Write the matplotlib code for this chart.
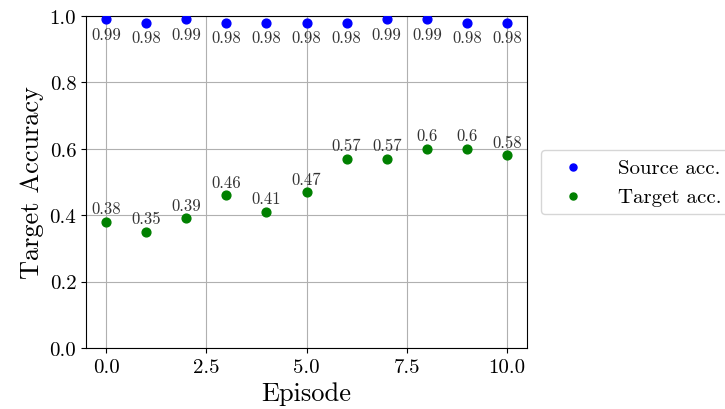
import matplotlib
matplotlib.use('Agg')
import matplotlib.pyplot as plt
from matplotlib.ticker import MultipleLocator, FormatStrFormatter

plt.rcParams['font.family'] = 'serif'
plt.rcParams['font.serif'] = ['cmr10']
plt.rcParams['mathtext.fontset'] = 'cm'
plt.rcParams['axes.formatter.use_mathtext'] = True

episodes = [0, 1, 2, 3, 4, 5, 6, 7, 8, 9, 10]
source_acc = [0.99, 0.98, 0.99, 0.98, 0.98, 0.98, 0.98, 0.99, 0.99, 0.98, 0.98]
target_acc = [0.38, 0.35, 0.39, 0.46, 0.41, 0.47, 0.57, 0.57, 0.6, 0.6, 0.58]

fig = plt.figure(figsize=(7.25, 4.1), dpi=100)
ax = fig.add_axes([0.1186, 0.149, 0.6084, 0.8095])

ax.scatter(episodes, source_acc, color='blue', s=40, label='Source acc.', zorder=3)
ax.scatter(episodes, target_acc, color='green', s=40, label='Target acc.', zorder=3)

# value labels: below the source points, above the target points
for x, y in zip(episodes, source_acc):
    ax.annotate(str(y), (x, y), textcoords='offset points', xytext=(0, -14),
                ha='center', fontsize=12, color='#333333')
for x, y in zip(episodes, target_acc):
    ax.annotate(str(y), (x, y), textcoords='offset points', xytext=(0, 6),
                ha='center', fontsize=12, color='#333333')

ax.set_ylim(0, 1.0)
ax.set_xlim(-0.5, 10.5)
ax.xaxis.set_major_locator(MultipleLocator(2.5))
ax.xaxis.set_major_formatter(FormatStrFormatter('%.1f'))
ax.yaxis.set_major_formatter(FormatStrFormatter('%.1f'))
ax.grid(True, color='#b0b0b0', linewidth=0.8)
ax.set_axisbelow(True)
ax.tick_params(labelsize=15)
ax.set_xlabel('Episode', fontsize=19)
ax.set_ylabel('Target Accuracy', fontsize=19)
ax.legend(loc='center left', bbox_to_anchor=(1.007, 0.5), fontsize=15,
          markerscale=0.8, handlelength=2.3, handletextpad=1.0)

fig.savefig('out.png')
